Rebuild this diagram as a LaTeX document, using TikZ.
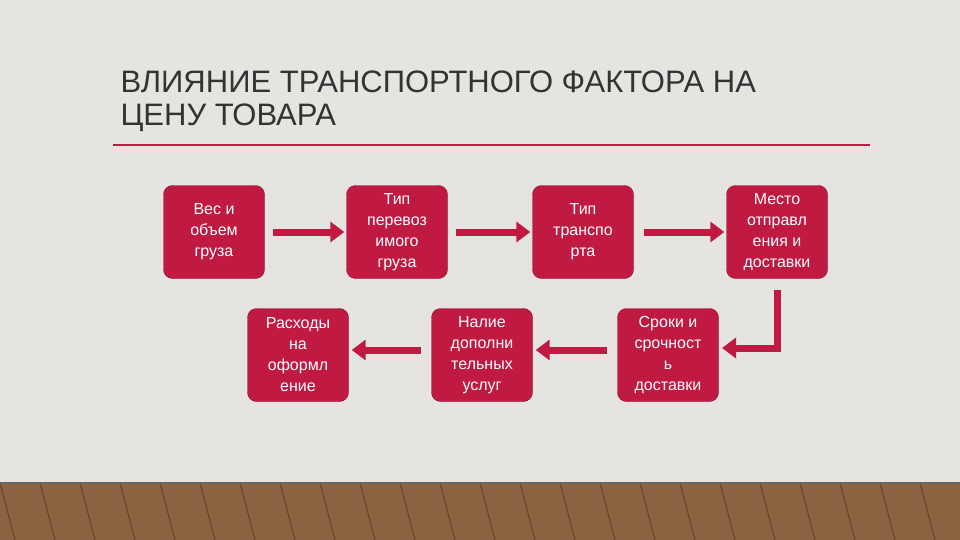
\documentclass[tikz,border=0pt]{standalone}
\usepackage{fontspec}
\setmainfont{Liberation Sans}
\usetikzlibrary{arrows.meta}
\definecolor{crim}{HTML}{C01A42}
\definecolor{crimd}{HTML}{8E1030}
\definecolor{wall}{HTML}{E6E4E0}
\definecolor{wood}{HTML}{8A6440}
\begin{document}
\begin{tikzpicture}[x=1pt,y=-1pt,
  box/.style={draw=crimd,fill=crim,rounded corners=9pt,minimum width=101pt,minimum height=93pt,text=white,align=center,font=\fontsize{16}{21}\selectfont,inner sep=1pt},
  arr/.style={draw=crim,line width=7pt,-{Triangle[width=20pt,length=14pt]}}]
\useasboundingbox (0,0) rectangle (960,540);
\fill[wall] (0,0) rectangle (960,540);
\fill[wood] (0,483) rectangle (960,540);
\begin{scope}
\clip (0,483) rectangle (960,540);
\foreach \x in {0,40,...,960}{\draw[wood!70!black,line width=1pt] (\x,483) -- (\x+15,540);}
\end{scope}
\draw[black!60,line width=1.5pt] (0,483) -- (960,483);
\node[anchor=west,text=black!80,font=\fontsize{31}{33}\selectfont,align=left] (title) at (117,101) {ВЛИЯНИЕ ТРАНСПОРТНОГО ФАКТОРА НА\\ЦЕНУ ТОВАРА};
\draw[crim,line width=2pt] (113,145) -- (870,145);
\node[box] (b1) at (214,232) {Вес и\\объем\\груза};
\node[box] (b2) at (397,232) {Тип\\перевоз\\имого\\груза};
\node[box] (b3) at (583,232) {Тип\\транспо\\рта};
\node[box] (b4) at (777,232) {Место\\отправл\\ения и\\доставки};
\node[box] (b5) at (668,355) {Сроки и\\срочност\\ь\\доставки};
\node[box] (b6) at (482,355) {Налие\\дополни\\тельных\\услуг};
\node[box] (b7) at (298,355) {Расходы\\на\\оформл\\ение};
\draw[arr] ([xshift=8pt]b1.east) -- ([xshift=-2pt]b2.west);
\draw[arr] ([xshift=8pt]b2.east) -- ([xshift=-2pt]b3.west);
\draw[arr] ([xshift=10pt]b3.east) -- ([xshift=-2pt]b4.west);
\coordinate (k) at (777,348);
\coordinate (e5) at (722,348);
\draw[arr] ([yshift=-11pt]b4.south) -- (k) -- (e5);
\draw[arr] ([xshift=-10pt,yshift=5pt]b5.west) -- ([xshift=3pt,yshift=5pt]b6.east);
\draw[arr] ([xshift=-10pt,yshift=5pt]b6.west) -- ([xshift=3pt,yshift=5pt]b7.east);
\end{tikzpicture}
\end{document}
